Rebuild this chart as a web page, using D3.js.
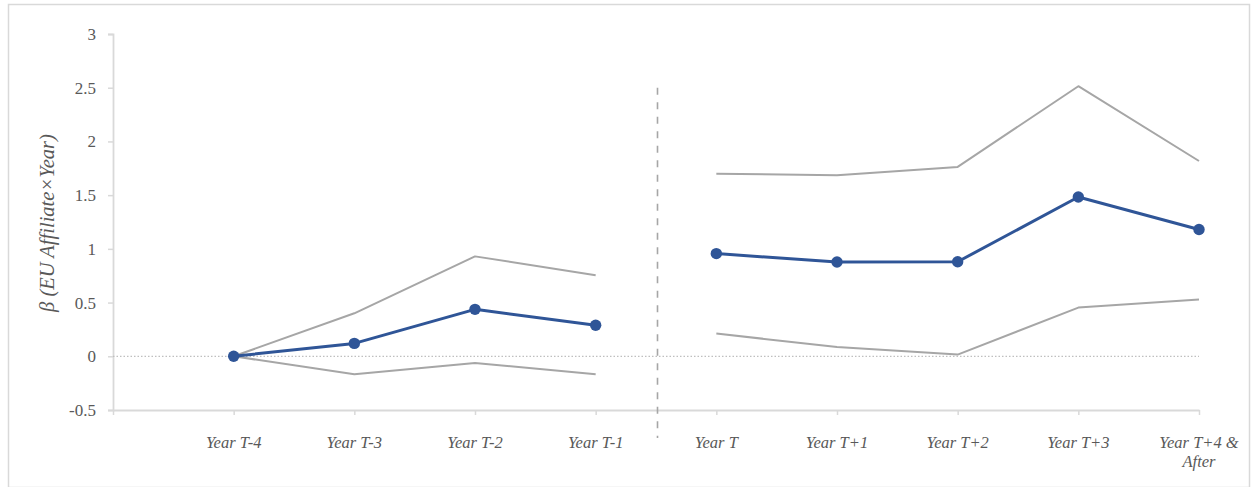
<!DOCTYPE html>
<html>
<head>
<meta charset="utf-8">
<script src="https://cdn.jsdelivr.net/npm/d3@7"></script>
<style>
  html, body { margin: 0; padding: 0; background: #fff; }
  svg { display: block; }
  .serif { font-family: "Liberation Serif", "Times New Roman", serif; }
</style>
</head>
<body>
<svg id="chart" width="1251" height="487"></svg>
<script>
// Event-study coefficients and 95% confidence bounds
const categories = ["Year T-4", "Year T-3", "Year T-2", "Year T-1", "Year T",
                    "Year T+1", "Year T+2", "Year T+3", "Year T+4 & After"];
const beta  = [0, 0.12, 0.437, 0.289, 0.956, 0.878, 0.880, 1.483, 1.180];
const upper = [0, 0.40, 0.930, 0.754, 1.700, 1.685, 1.763, 2.514, 1.818];
const lower = [0, -0.168, -0.062, -0.168, 0.211, 0.087, 0.016, 0.453, 0.528];
const yTicks = [-0.5, 0, 0.5, 1, 1.5, 2, 2.5, 3];
const yTitle = "β (EU Affiliate×Year)";
const firstTreated = 4; // index of "Year T": pre and post periods are drawn apart

const svg = d3.select("#chart");
const W = 1251, H = 487;

// outer frame
svg.append("rect")
  .attr("x", 8.5).attr("y", 4.5)
  .attr("width", W - 10).attr("height", H - 4)
  .attr("fill", "#fff").attr("stroke", "#d9d9d9").attr("stroke-width", 1.5);

// category slots: the axis starts one slot before the first period
const x = d3.scaleLinear().domain([-1, categories.length - 1]).range([113, 1199]);
const y = d3.scaleLinear().domain([-0.5, 3]).range([410, 34]);

const axisColor = "#d9d9d9";
const textColor = "#595959";

// y axis
const yAxis = svg.append("g")
  .attr("transform", `translate(${x(-1)},0)`)
  .call(d3.axisLeft(y).tickValues(yTicks).tickSize(5).tickPadding(12)
        .tickFormat(d => String(d)));
yAxis.attr("font-family", null).attr("font-size", null);
yAxis.select(".domain").attr("stroke", axisColor).attr("stroke-width", 1.8);
yAxis.selectAll(".tick line").attr("stroke", axisColor).attr("stroke-width", 1.5);
yAxis.selectAll(".tick text")
  .attr("class", "serif")
  .attr("fill", textColor).style("font-size", "17px");

// x axis
const xAxis = svg.append("g")
  .attr("transform", `translate(0,${y(-0.5)})`)
  .call(d3.axisBottom(x).tickValues(d3.range(-1, categories.length)).tickSize(5)
        .tickSizeOuter(0).tickFormat(""));
xAxis.select(".domain").attr("stroke", axisColor).attr("stroke-width", 1.8);
xAxis.selectAll(".tick line").attr("stroke", axisColor).attr("stroke-width", 1.5);

// category labels (last one wraps after the ampersand)
const labels = svg.append("g").attr("class", "serif")
  .style("font-style", "italic").style("font-size", "16.5px")
  .attr("fill", textColor).attr("text-anchor", "middle");
categories.forEach((c, i) => {
  const cut = c.indexOf("& ");
  const parts = cut >= 0 ? [c.slice(0, cut + 1), c.slice(cut + 2)] : [c];
  const t = labels.append("text").attr("x", x(i)).attr("y", 448);
  parts.forEach((p, k) => {
    t.append("tspan").attr("x", x(i)).attr("dy", k === 0 ? 0 : 19).text(p);
  });
});

// y axis title
svg.append("text").attr("class", "serif")
  .attr("transform", `translate(54,223) rotate(-90)`)
  .attr("text-anchor", "middle")
  .style("font-style", "italic").style("font-size", "20.5px")
  .attr("fill", textColor)
  .text(yTitle);

// zero reference line
svg.append("line")
  .attr("x1", x(-1)).attr("x2", x(categories.length - 1))
  .attr("y1", y(0)).attr("y2", y(0))
  .attr("stroke", "#bfbfbf").attr("stroke-width", 1.2)
  .attr("stroke-dasharray", "1.5,2");

// treatment divider between T-1 and T
svg.append("line")
  .attr("x1", x(3.5) + 1.5).attr("x2", x(3.5) + 1.5)
  .attr("y1", y(2.5)).attr("y2", y(-0.76))
  .attr("stroke", "#a6a6a6").attr("stroke-width", 1.6)
  .attr("stroke-dasharray", "7,7.5");

const line = d3.line().x(d => x(d.i)).y(d => y(d.v));
// split a series into its pre-period and post-period runs
const runs = s => {
  const pts = s.map((v, i) => ({ i, v }));
  return [pts.slice(0, firstTreated), pts.slice(firstTreated)];
};

// confidence bounds
[upper, lower].forEach(s => {
  runs(s).forEach(run => {
    svg.append("path").datum(run)
      .attr("d", line).attr("fill", "none")
      .attr("stroke", "#a6a6a6").attr("stroke-width", 2)
      .attr("stroke-linejoin", "round");
  });
});

// coefficient series
const blue = "#2f5597";
runs(beta).forEach(run => {
  svg.append("path").datum(run)
    .attr("d", line).attr("fill", "none")
    .attr("stroke", blue).attr("stroke-width", 3)
    .attr("stroke-linejoin", "round");
});
svg.append("g").selectAll("circle").data(beta).join("circle")
  .attr("cx", (d, i) => x(i)).attr("cy", d => y(d))
  .attr("r", 5.7).attr("fill", blue);
</script>
</body>
</html>
